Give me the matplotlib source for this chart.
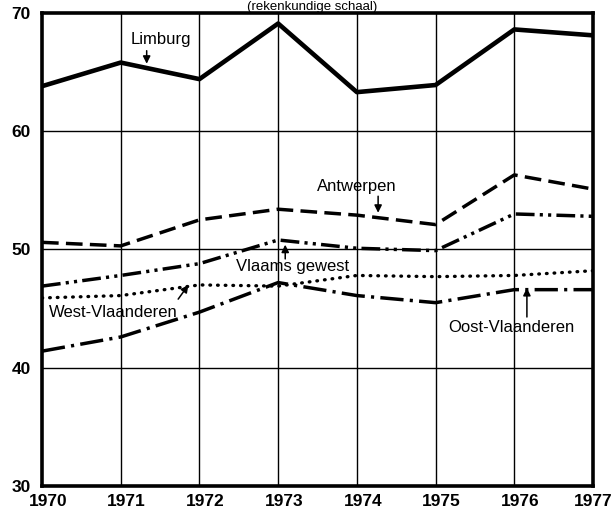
import matplotlib
matplotlib.use("Agg")
import matplotlib.pyplot as plt
import matplotlib.transforms as mtransforms

years = [1970, 1971, 1972, 1973, 1974, 1975, 1976, 1977]
limburg = [63.8, 65.8, 64.4, 69.1, 63.3, 63.9, 68.6, 68.1]
antwerpen = [50.6, 50.3, 52.5, 53.4, 52.9, 52.1, 56.3, 55.1]
vlaams_gewest = [46.9, 47.8, 48.8, 50.8, 50.1, 49.9, 53.0, 52.8]
west_vlaanderen = [45.9, 46.1, 47.0, 46.9, 47.8, 47.7, 47.8, 48.2]
oost_vlaanderen = [41.4, 42.6, 44.7, 47.2, 46.1, 45.5, 46.6, 46.6]
y_ticks = [30, 40, 50, 60, 70]

plt.rcParams['font.family'] = ['Liberation Sans', 'DejaVu Sans']

fig = plt.figure(figsize=(6.12, 5.15), dpi=100)
ax = fig.add_axes([0.0686, 0.0563, 0.9004, 0.9187])

# grid lines, thin
for y in y_ticks[1:-1]:
    ax.axhline(y, color='black', lw=1.0, zorder=1)
for x in years[1:-1]:
    ax.axvline(x, color='black', lw=1.0, zorder=1)

ax.plot(years, limburg, color='black', lw=3.3, zorder=3)
ax.plot(years, antwerpen, color='black', lw=2.5, dashes=(4.8, 2.1), zorder=3)
ax.plot(years, vlaams_gewest, color='black', lw=2.5,
        dashes=(5.4, 1.5, 0.9, 1.5, 0.9, 1.5), zorder=3)
ax.plot(years, west_vlaanderen, color='black', lw=2.4, dashes=(0.2, 2.1),
        dash_capstyle='round', zorder=3)
ax.plot(years, oost_vlaanderen, color='black', lw=2.5,
        dashes=(6.7, 1.8, 0.9, 1.8), zorder=3)

ax.set_xlim(1970, 1977)
ax.set_ylim(30, 70)
ax.set_xticks(years)
ax.set_yticks(y_ticks)
ax.tick_params(length=0, labelsize=12.5)
ax.tick_params(axis='x', pad=5.5)
ax.tick_params(axis='y', pad=8)
# year labels sit a little to the right of the grid lines
shift = mtransforms.ScaledTranslation(6 / 100, 0, fig.dpi_scale_trans)
xlabels = ax.get_xticklabels()
for lab in xlabels:
    lab.set_fontweight('bold')
    lab.set_transform(lab.get_transform() + shift)
last = mtransforms.ScaledTranslation(13 / 100, 0, fig.dpi_scale_trans)
xlabels[-1].set_horizontalalignment('right')
xlabels[-1].set_transform(xlabels[-1].get_transform() + last)
for lab in ax.get_yticklabels():
    lab.set_fontweight('bold')
for s in ax.spines.values():
    s.set_linewidth(2.6)

arrow = dict(arrowstyle='-|>', color='black', lw=1.1, mutation_scale=11, shrinkA=0, shrinkB=0)
fs = 12
ax.text(1971.51, 67.76, 'Limburg', fontsize=fs, ha='center', va='center')
ax.annotate('', xy=(1971.33, 65.7), xytext=(1971.33, 66.8), arrowprops=arrow)
ax.text(1974.0, 55.29, 'Antwerpen', fontsize=fs, ha='center', va='center')
ax.annotate('', xy=(1974.27, 53.1), xytext=(1974.27, 54.5), arrowprops=arrow)
ax.text(1973.18, 48.52, 'Vlaams gewest', fontsize=fs, ha='center', va='center')
ax.annotate('', xy=(1973.09, 50.4), xytext=(1973.09, 49.2), arrowprops=arrow)
ax.text(1970.91, 44.71, 'West-Vlaanderen', fontsize=fs, ha='center', va='center')
ax.annotate('', xy=(1971.86, 47.0), xytext=(1971.73, 45.8), arrowprops=arrow)
ax.text(1975.96, 43.36, 'Oost-Vlaanderen', fontsize=fs, ha='center', va='center')
ax.annotate('', xy=(1976.16, 46.74), xytext=(1976.16, 44.29), arrowprops=arrow)

fig.text(0.51, 0.999, '(rekenkundige schaal)', fontsize=9.5, ha='center', va='top')

fig.savefig('out.png', dpi=100)
